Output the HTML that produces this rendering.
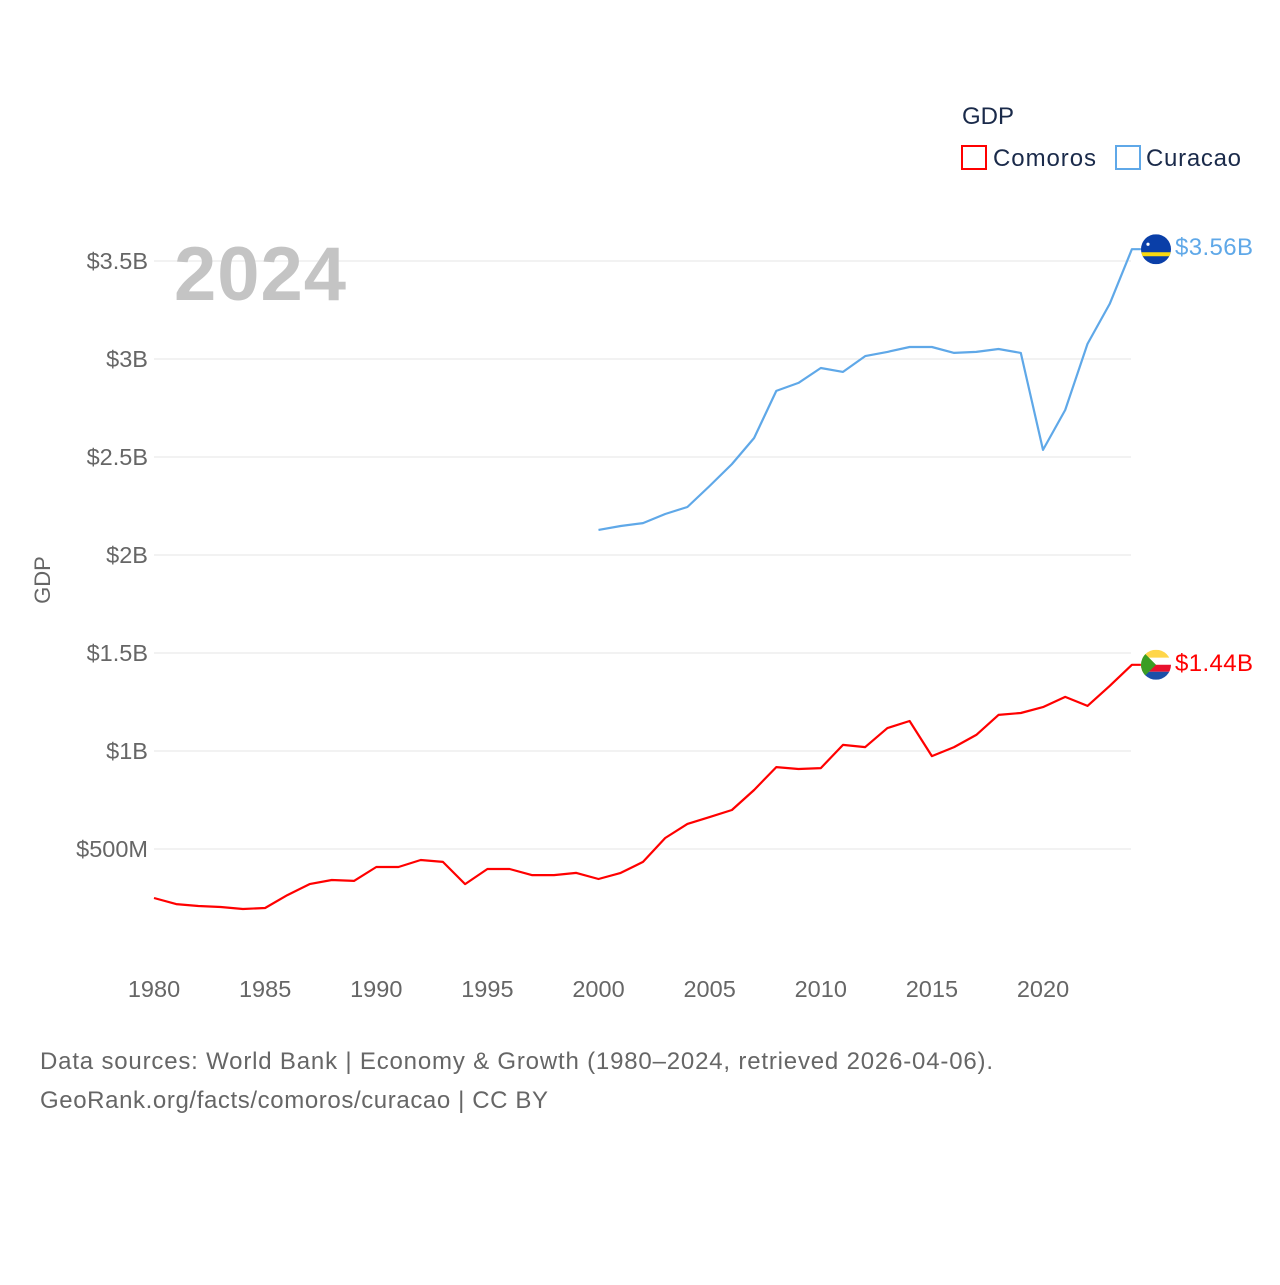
<!DOCTYPE html>
<html><head><meta charset="utf-8"><style>
body{margin:0;background:#fff;width:1280px;height:1280px;overflow:hidden;font-family:"Liberation Sans",sans-serif}
</style></head><body>
<svg id="chart" width="1280" height="1280" xmlns="http://www.w3.org/2000/svg" font-family="Liberation Sans, sans-serif">
<g id="grid"></g>
<g id="axes"></g>
<text x="174" y="300" font-size="76" font-weight="bold" fill="#c4c4c4" textLength="172">2024</text>
<text transform="translate(50,580) rotate(-90)" text-anchor="middle" font-size="22" fill="#666">GDP</text>
<g>
<text x="962" y="124" font-size="24" fill="#1a2a4a">GDP</text>
<g><rect x="962" y="146" width="24" height="23" fill="none" stroke="#ff0000" stroke-width="2"/><text x="993" y="166" font-size="24" fill="#1a2a4a" textLength="103">Comoros</text></g>
<g><rect x="1116" y="146" width="24" height="23" fill="none" stroke="#5fa8e8" stroke-width="2"/><text x="1146" y="166" font-size="24" fill="#1a2a4a" textLength="95">Curacao</text></g>
</g>
<g id="series"></g>
<text x="40" y="1069" font-size="24" fill="#666" textLength="953">Data sources: World Bank | Economy &amp; Growth (1980–2024, retrieved 2026-04-06).</text>
<text x="40" y="1108" font-size="24" fill="#666" textLength="508">GeoRank.org/facts/comoros/curacao | CC BY</text>
</svg>
<script>
const comorosYears=[1980,1981,1982,1983,1984,1985,1986,1987,1988,1989,1990,1991,1992,1993,1994,1995,1996,1997,1998,1999,2000,2001,2002,2003,2004,2005,2006,2007,2008,2009,2010,2011,2012,2013,2014,2015,2016,2017,2018,2019,2020,2021,2022,2023,2024];
const comorosValues=[0.25,0.219,0.209,0.204,0.194,0.199,0.265,0.321,0.342,0.337,0.408,0.408,0.444,0.434,0.321,0.398,0.398,0.367,0.367,0.378,0.347,0.378,0.434,0.556,0.628,0.663,0.699,0.801,0.918,0.908,0.913,1.031,1.020,1.117,1.153,0.974,1.020,1.082,1.184,1.194,1.224,1.276,1.230,1.332,1.44];
const curacaoYears=[2000,2001,2002,2003,2004,2005,2006,2007,2008,2009,2010,2011,2012,2013,2014,2015,2016,2017,2018,2019,2020,2021,2022,2023,2024];
const curacaoValues=[2.128,2.148,2.163,2.209,2.245,2.352,2.464,2.597,2.837,2.878,2.954,2.934,3.015,3.036,3.061,3.061,3.031,3.036,3.051,3.031,2.536,2.740,3.077,3.281,3.56];
const yTicks=[0.5,1,1.5,2,2.5,3,3.5];
const yTickLabels=["$500M","$1B","$1.5B","$2B","$2.5B","$3B","$3.5B"];
const xTicks=[1980,1985,1990,1995,2000,2005,2010,2015,2020];
const endLabels=["$1.44B","$3.56B"];

const NS="http://www.w3.org/2000/svg";
const xS=y=>154+(y-1980)*(1043-154)/40;
const yS=v=>947-v*196;
function mk(tag,attrs,parent){const e=document.createElementNS(NS,tag);for(const k in attrs)e.setAttribute(k,attrs[k]);parent.appendChild(e);return e;}
const grid=document.getElementById('grid'),axes=document.getElementById('axes'),series=document.getElementById('series');
yTicks.forEach((t,i)=>{
 const l=mk('line',{x1:154,x2:1131,y1:yS(t),y2:yS(t),stroke:'#e6e6e6','stroke-width':1},grid);
 
 
 const tx=mk('text',{x:148,y:yS(t)+8,'text-anchor':'end','font-size':23.5,fill:'#666'},axes);
 tx.textContent=yTickLabels[i];
 
 
});
xTicks.forEach(t=>{
 const tx=mk('text',{x:xS(t),y:997,'text-anchor':'middle','font-size':23.5,fill:'#666'},axes);
 tx.textContent=t;
 
 
});
function drawLine(years,vals,color,name,label,flag){
 let d=years.map((y,i)=>(i?'L':'M')+xS(y).toFixed(1)+','+yS(vals[i]).toFixed(1)).join(' ');
 const ly=yS(vals[vals.length-1]);
 d+=' L'+(xS(years[years.length-1])+9)+','+ly.toFixed(1);
 const p=mk('path',{d:d,fill:'none',stroke:color,'stroke-width':2.2,'stroke-linejoin':'round'},series);
 
 
 const g=mk('g',{},series);
 
 
 const cx=1156;
 const cp=mk('clipPath',{id:'c'+name},g);mk('circle',{cx:cx,cy:ly,r:15},cp);
 const fg=mk('g',{'clip-path':'url(#c'+name+')'},g);
 if(flag==='cw'){
  mk('rect',{x:cx-15,y:ly-15,width:30,height:30,fill:'#0a3fa8'},fg);
  mk('rect',{x:cx-15,y:ly+3,width:30,height:4,fill:'#f9d90f'},fg);
  mk('circle',{cx:cx-8,cy:ly-5,r:1.6,fill:'#fff'},fg);
 }else{
  mk('rect',{x:cx-15,y:ly-15,width:30,height:8,fill:'#ffd64a'},fg);
  mk('rect',{x:cx-15,y:ly-7,width:30,height:7,fill:'#fff'},fg);
  mk('rect',{x:cx-15,y:ly,width:30,height:7,fill:'#e8112d'},fg);
  mk('rect',{x:cx-15,y:ly+7,width:30,height:8,fill:'#1c4fa8'},fg);
  mk('path',{d:`M${cx-15},${ly-15} L${cx},${ly} L${cx-15},${ly+15}Z`,fill:'#3a9d23'},fg);
 }
 const t=mk('text',{x:1175,y:ly+6,'font-size':24,fill:color,textLength:78},series);
 t.textContent=label;
 
 
}
drawLine(curacaoYears,curacaoValues,'#5fa8e8','curacao',endLabels[1],'cw');
drawLine(comorosYears,comorosValues,'#ff0000','comoros',endLabels[0],'km');
</script>
</body></html>
